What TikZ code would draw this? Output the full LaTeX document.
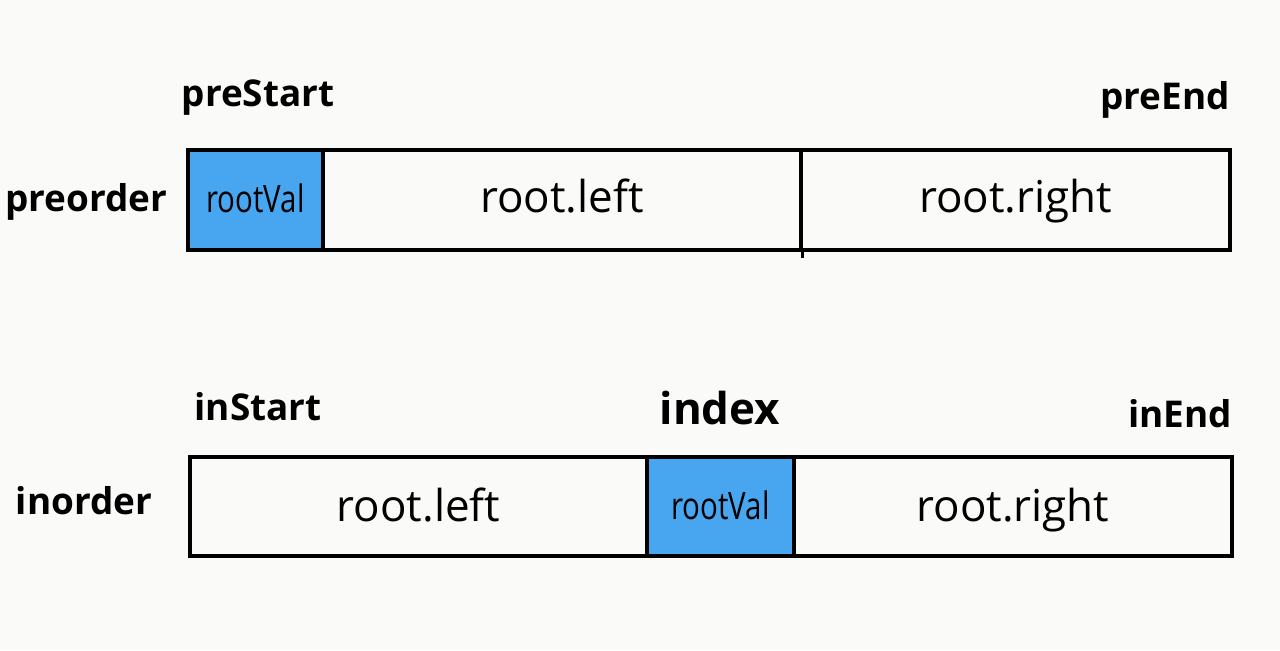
\documentclass[tikz,border=0pt]{standalone}
\usepackage{fontspec}
\setmainfont{Open Sans}
\newfontfamily\narrowfont[FakeStretch=0.78]{Open Sans}
\usetikzlibrary{positioning}
\definecolor{paper}{HTML}{FAFAF8}
\definecolor{rootblue}{HTML}{48A6F0}

\begin{document}
\begin{tikzpicture}[x=0.02cm, y=-0.02cm,
  cell/.style={draw, line width=1.9pt, minimum height=2cm, inner sep=0pt, text height=17pt, text depth=3pt, font=\fontsize{25}{28}\selectfont},
  rootcell/.style={cell, fill=rootblue, font=\narrowfont\fontsize{21.5}{24}\selectfont},
  lowcell/.style={minimum height=1.98cm, text height=20pt},
  tag/.style={font=\bfseries\fontsize{21}{24}\selectfont, inner sep=0pt}]
\fill[paper] (0,0) rectangle (1280,650);
\useasboundingbox (0,0) rectangle (1280,650);
% preorder
\node[rootcell, minimum width=2.7cm] (PreRoot) at (255.5,200) {rootVal};
\node[cell, minimum width=9.56cm] (PreLeft) at (562,200) {root.left};
\node[cell, minimum width=8.58cm] (PreRight) at (1015.5,200) {root.right};
\draw[line width=1.9pt] (PreLeft.south east) -- ++(0,6);
\node[tag] (PreOrder) at (86,202) {preorder};
\node[tag] (PreStart) at (258,98) {preStart};
\node[tag] (PreEnd) at (1165,100) {preEnd};
% inorder
\node[cell, lowcell, minimum width=9.14cm] (InLeft) at (418.5,506.5) {root.left};
\node[rootcell, lowcell, minimum width=2.94cm, text height=18pt] (InRoot) at (720.5,506.5) {rootVal};
\node[cell, lowcell, minimum width=8.76cm] (InRight) at (1013,506.5) {root.right};
\node[tag] (InOrder) at (84,501) {inorder};
\node[tag] (InStart) at (258,407) {inStart};
\node[tag, font=\bfseries\fontsize{25}{28}\selectfont] (Index) at (720,408) {index};
\node[tag] (InEnd) at (1180,414) {inEnd};
\end{tikzpicture}
\end{document}
